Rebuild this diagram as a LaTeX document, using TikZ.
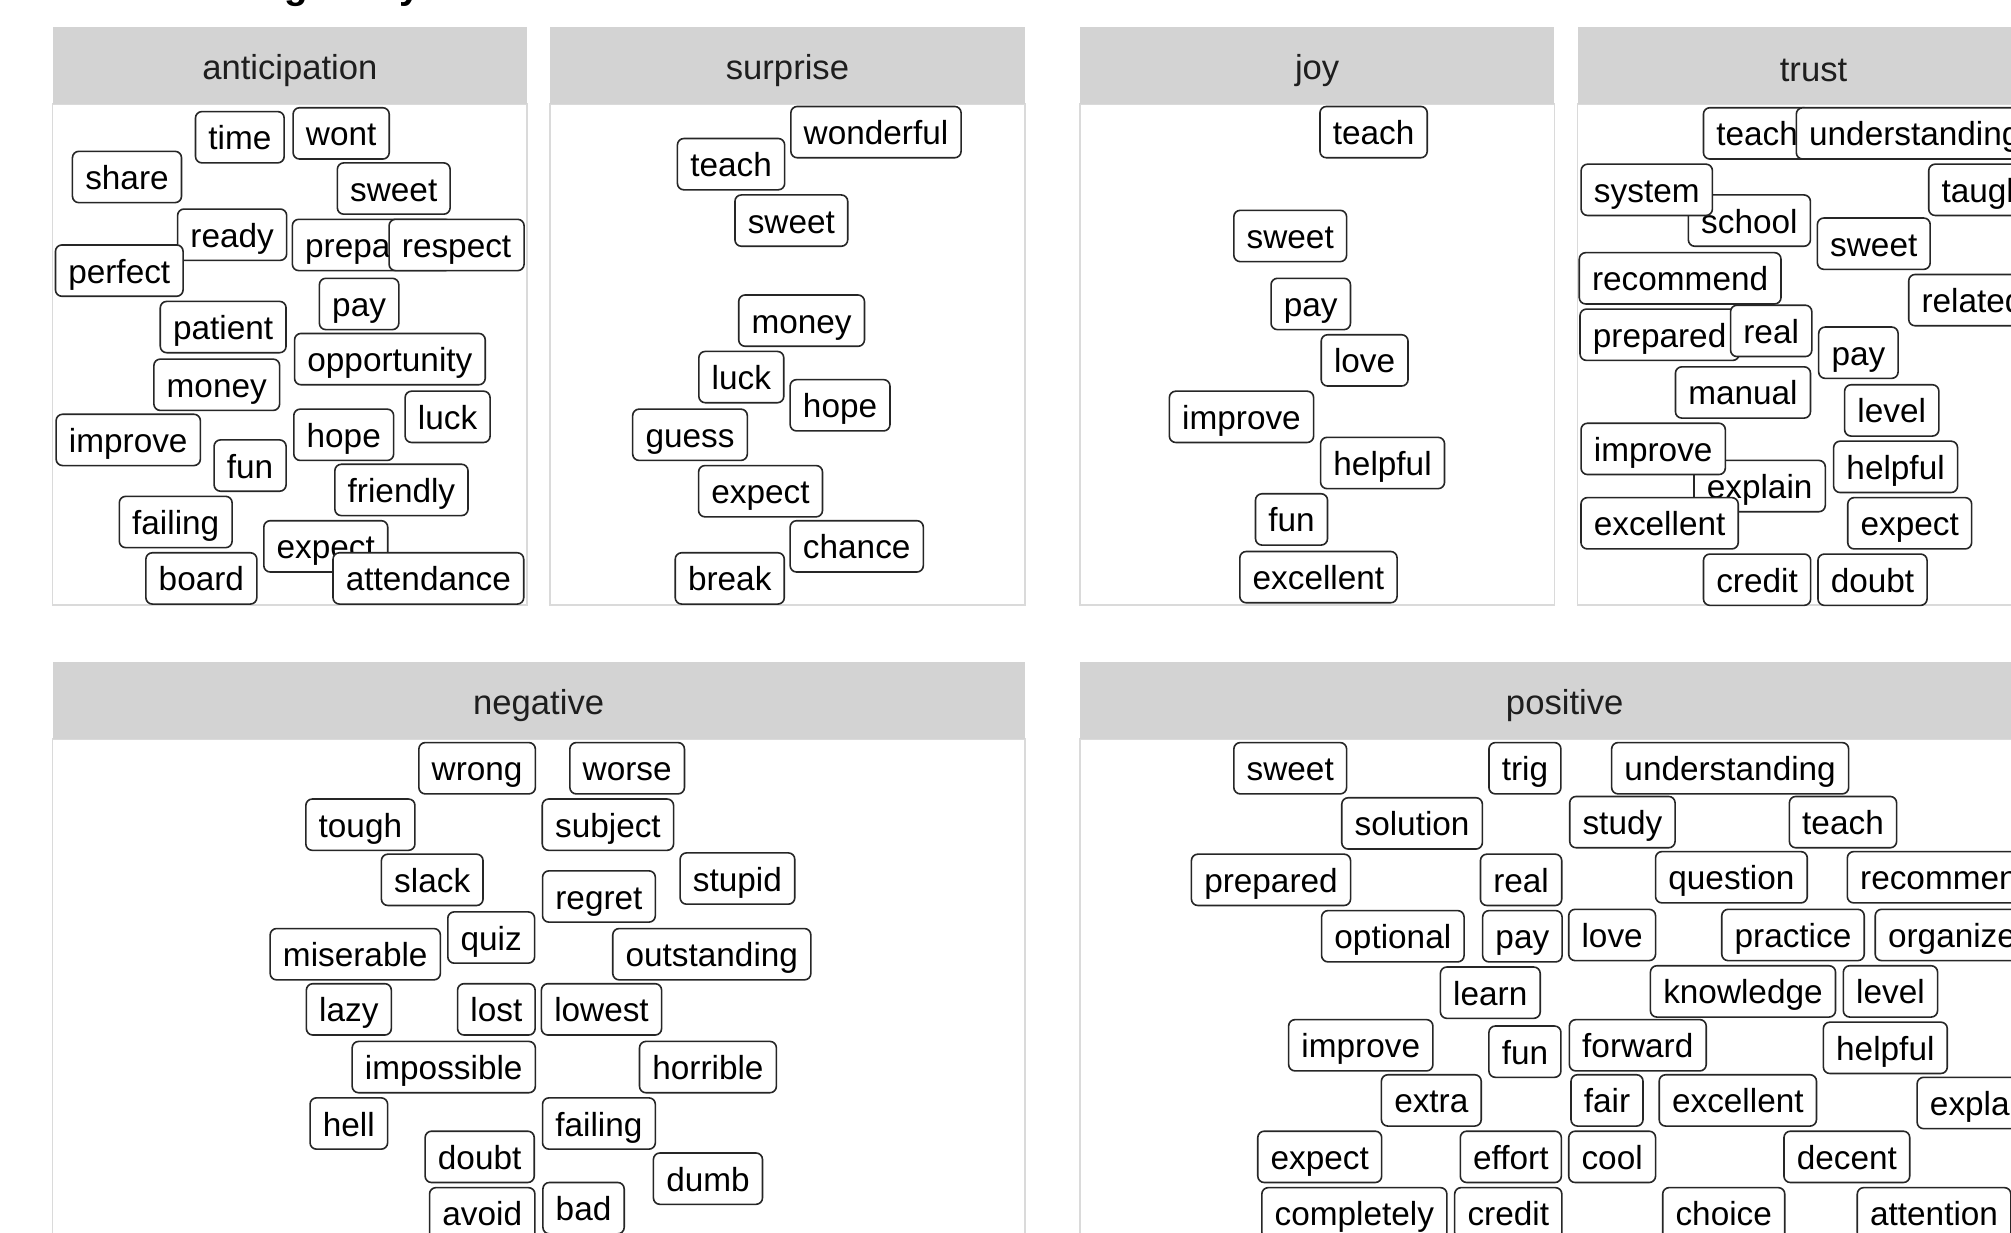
\documentclass[tikz,border=0pt]{standalone}
\usepackage{fontspec}
\setmainfont{Liberation Sans}
\definecolor{hdrfill}{RGB}{211,211,211}
\definecolor{bdrcol}{RGB}{218,218,218}
\definecolor{htext}{RGB}{30,30,30}
\tikzset{
  wl/.style={draw=black!85, fill=white, line width=1.25pt, rounded corners=5pt,
    inner xsep=10pt, inner ysep=0pt, minimum height=40pt,
    text height=22pt, text depth=2.5pt, font=\fontsize{26}{30}\selectfont},
  hdr/.style={fill=hdrfill},
  bdr/.style={draw=bdrcol, line width=1.4pt, fill=white},
  htxt/.style={text=htext, font=\fontsize{27}{30}\selectfont, inner sep=0pt}
}
\newcommand\wlab[4]{\node[wl] (#1) at (#2,#3) {#4};}
\newcommand\panel[6]{%
  \draw[bdr] (#2,#4+60) rectangle (#3,#5);
  \fill[hdr] (#2,#4) rectangle (#3,#4+60);
  \node[htxt] (#1) at ({(#2+#3)/2},#4+34) {#6};}
\begin{document}
\begin{tikzpicture}[x=1pt,y=-1pt]
\useasboundingbox (0,0) rectangle (1568,961);
\fill[white] (0,0) rectangle (1568,961);
% cut-off title descenders
\node[anchor=base, font=\bfseries\fontsize{30}{30}\selectfont, inner sep=0pt] (tg) at (231,-1.5) {g};
\node[anchor=base, font=\bfseries\fontsize{30}{30}\selectfont, inner sep=0pt] (ty) at (320,-1.5) {y};
% panels
\panel{h-ant}{41}{411}{21}{472}{anticipation}
\panel{h-sur}{429}{799}{21}{472}{surprise}
\panel{h-joy}{842}{1212}{21}{472}{joy}
\panel{h-tru}{1230}{1598}{21}{472}{trust}
\panel{h-neg}{41}{799}{516}{1000}{negative}
\panel{h-pos}{842}{1598}{516}{1000}{positive}
% anticipation
\wlab{an-time}{187}{107}{time}
\wlab{an-wont}{266}{104}{wont}
\wlab{an-share}{99}{138}{share}
\wlab{an-sweet}{307}{147}{sweet}
\wlab{an-ready}{181}{183}{ready}
\wlab{an-perfect}{93}{211}{perfect}
\wlab{an-prepared}{290}{191}{prepared}
\wlab{an-respect}{356}{191}{respect}
\wlab{an-pay}{280}{237}{pay}
\wlab{an-patient}{174}{255}{patient}
\wlab{an-opportunity}{304}{280}{opportunity}
\wlab{an-money}{169}{300}{money}
\wlab{an-luck}{349}{325}{luck}
\wlab{an-improve}{100}{343}{improve}
\wlab{an-hope}{268}{339}{hope}
\wlab{an-fun}{195}{363}{fun}
\wlab{an-friendly}{313}{382}{friendly}
\wlab{an-failing}{137}{407}{failing}
\wlab{an-expect}{254}{426}{expect}
\wlab{an-board}{157}{451}{board}
\wlab{an-attendance}{334}{451}{attendance}
% surprise
\wlab{su-wonderful}{683}{103}{wonderful}
\wlab{su-teach}{570}{128}{teach}
\wlab{su-sweet}{617}{172}{sweet}
\wlab{su-money}{625}{250}{money}
\wlab{su-luck}{578}{294}{luck}
\wlab{su-hope}{655}{316}{hope}
\wlab{su-guess}{538}{339}{guess}
\wlab{su-expect}{593}{383}{expect}
\wlab{su-chance}{668}{426}{chance}
\wlab{su-break}{569}{451}{break}
% joy
\wlab{jo-teach}{1071}{103}{teach}
\wlab{jo-sweet}{1006}{184}{sweet}
\wlab{jo-pay}{1022}{237}{pay}
\wlab{jo-love}{1064}{281}{love}
\wlab{jo-improve}{968}{325}{improve}
\wlab{jo-helpful}{1078}{361}{helpful}
\wlab{jo-fun}{1007}{405}{fun}
\wlab{jo-excellent}{1028}{450}{excellent}
% trust
\wlab{tr-teach}{1370}{104}{teach}
\wlab{tr-understanding}{1493}{104}{understanding}
\wlab{tr-school}{1364}{172}{school}
\wlab{tr-system}{1284}{148}{system}
\wlab{tr-taught}{1550}{148}{taught}
\wlab{tr-sweet}{1461}{190}{sweet}
\wlab{tr-recommend}{1310}{217}{recommend}
\wlab{tr-related}{1538}{234}{related}
\wlab{tr-prepared}{1294}{261}{prepared}
\wlab{tr-real}{1381}{258}{real}
\wlab{tr-pay}{1449}{275}{pay}
\wlab{tr-manual}{1359}{306}{manual}
\wlab{tr-level}{1475}{320}{level}
\wlab{tr-explain}{1372}{379}{explain}
\wlab{tr-improve}{1289}{350}{improve}
\wlab{tr-helpful}{1478}{364}{helpful}
\wlab{tr-excellent}{1294}{408}{excellent}
\wlab{tr-expect}{1489}{408}{expect}
\wlab{tr-credit}{1370}{452}{credit}
\wlab{tr-doubt}{1460}{452}{doubt}
% negative
\wlab{ne-wrong}{372}{599}{wrong}
\wlab{ne-worse}{489}{599}{worse}
\wlab{ne-tough}{281}{643}{tough}
\wlab{ne-subject}{474}{643}{subject}
\wlab{ne-slack}{337}{686}{slack}
\wlab{ne-stupid}{575}{685}{stupid}
\wlab{ne-regret}{467}{699}{regret}
\wlab{ne-quiz}{383}{731}{quiz}
\wlab{ne-miserable}{277}{744}{miserable}
\wlab{ne-outstanding}{555}{744}{outstanding}
\wlab{ne-lazy}{272}{787}{lazy}
\wlab{ne-lost}{387}{787}{lost}
\wlab{ne-lowest}{469}{787}{lowest}
\wlab{ne-impossible}{346}{832}{impossible}
\wlab{ne-horrible}{552}{832}{horrible}
\wlab{ne-hell}{272}{876}{hell}
\wlab{ne-failing}{467}{876}{failing}
\wlab{ne-doubt}{374}{902}{doubt}
\wlab{ne-dumb}{552}{919}{dumb}
\wlab{ne-avoid}{376}{946}{avoid}
\wlab{ne-bad}{455}{942}{bad}
% positive
\wlab{po-sweet}{1006}{599}{sweet}
\wlab{po-trig}{1189}{599}{trig}
\wlab{po-understanding}{1349}{599}{understanding}
\wlab{po-solution}{1101}{642}{solution}
\wlab{po-study}{1265}{641}{study}
\wlab{po-teach}{1437}{641}{teach}
\wlab{po-prepared}{991}{686}{prepared}
\wlab{po-real}{1186}{686}{real}
\wlab{po-question}{1350}{684}{question}
\wlab{po-recommend}{1519}{684}{recommend}
\wlab{po-optional}{1086}{730}{optional}
\wlab{po-pay}{1187}{730}{pay}
\wlab{po-love}{1257}{729}{love}
\wlab{po-practice}{1398}{729}{practice}
\wlab{po-organize}{1522}{729}{organize}
\wlab{po-learn}{1162}{774}{learn}
\wlab{po-knowledge}{1359}{773}{knowledge}
\wlab{po-level}{1474}{773}{level}
\wlab{po-improve}{1061}{815}{improve}
\wlab{po-fun}{1189}{820}{fun}
\wlab{po-forward}{1277}{815}{forward}
\wlab{po-helpful}{1470}{817}{helpful}
\wlab{po-extra}{1116}{858}{extra}
\wlab{po-fair}{1253}{858}{fair}
\wlab{po-excellent}{1355}{858}{excellent}
\wlab{po-explain}{1546}{860}{explain}
\wlab{po-expect}{1029}{902}{expect}
\wlab{po-effort}{1178}{902}{effort}
\wlab{po-cool}{1257}{902}{cool}
\wlab{po-decent}{1440}{902}{decent}
\wlab{po-completely}{1056}{946}{completely}
\wlab{po-credit}{1176}{946}{credit}
\wlab{po-choice}{1344}{946}{choice}
\wlab{po-attention}{1508}{946}{attention}
\end{tikzpicture}
\end{document}
